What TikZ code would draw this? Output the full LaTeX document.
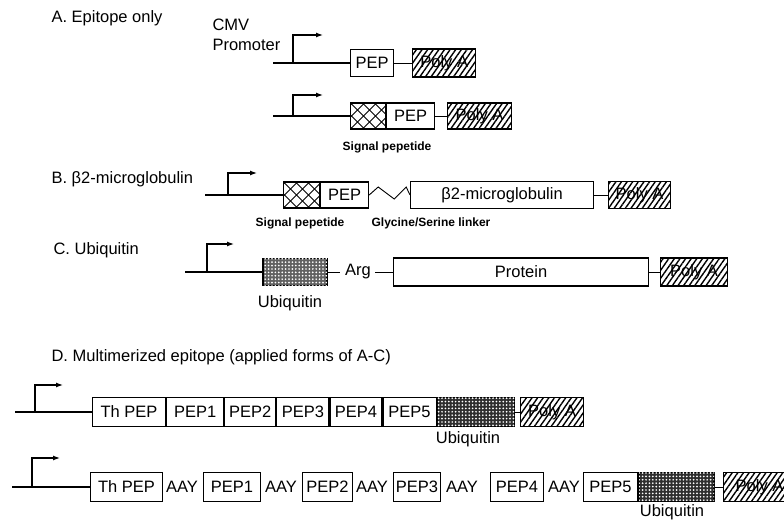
\documentclass[tikz,border=0pt]{standalone}
\usepackage{fontspec}
\setmainfont{Liberation Sans}
\usetikzlibrary{patterns,patterns.meta,arrows.meta}
\tikzset{
  bx/.style={draw,line width=1.1pt,inner sep=0pt,anchor=west,font=\fontsize{16.5}{16.5}\selectfont},
  polya/.style={bx,pattern={Lines[angle=55,distance=4.6pt,line width=1.4pt]}},
  sigpep/.style={bx,path picture={
     \foreach \k in {-60,-48,...,60}{
       \draw[line width=0.9pt] ([xshift=\k pt]path picture bounding box.south west) -- ++(40pt,40pt);
       \draw[line width=0.9pt] ([xshift=\k pt]path picture bounding box.north west) -- ++(40pt,-40pt);}}},
  ubq/.style={bx,line width=1.8pt,fill=black!82,postaction={pattern={Dots[distance=3.4pt,radius=0.95pt]},pattern color=white}},
  dna/.style={line width=1.2pt},
  link/.style={line width=0.9pt},
  prom/.style={line width=1.2pt,-{Latex[length=7pt,width=5pt]}},
  head/.style={anchor=west,font=\fontsize{16.5}{16.5}\selectfont},
  small/.style={font=\fontsize{12}{12}\bfseries\selectfont},
  lab/.style={font=\fontsize{16.5}{16.5}\selectfont},
  aay/.style={inner sep=0pt,font=\fontsize{16.5}{16.5}\selectfont}
}
\begin{document}
\begin{tikzpicture}[x=1pt,y=-1pt]
\useasboundingbox (0,0) rectangle (784,524);
% ---- headings
\node[head] (hA) at (48,18) {A. Epitope only};
\node[head] (hB) at (48,179) {B. β2-microglobulin};
\node[head] (hC) at (50,250) {C. Ubiquitin};
\node[head] (hD) at (48,357) {D. Multimerized epitope (applied forms of A-C)};
\node[lab,anchor=west,align=left] (cmv) at (209,35) {CMV\\[4pt]Promoter};

% ---- A1
\coordinate (a1s) at (273,63);
\coordinate (a1p) at (293,63);
\node[bx,minimum width=43pt,minimum height=27pt] (a1pep) at (350,63) {PEP};
\node[polya,minimum width=63pt,minimum height=28pt] (a1pa) at (412,63) {Poly A};
\draw[dna] (a1s) -- (a1pep.west);
\draw[prom] (a1p) -- ++(0,-28) -- ++(30,0);
\draw[link] (a1pep.east) -- (a1pa.west);

% ---- A2
\coordinate (a2s) at (273,116);
\coordinate (a2p) at (293,116);
\node[sigpep,minimum width=35pt,minimum height=26pt] (a2sig) at (350,116) {};
\node[bx,minimum width=48pt,minimum height=26pt] (a2pep) at (a2sig.east) {PEP};
\node[polya,minimum width=64pt,minimum height=26pt] (a2pa) at (447,116) {Poly A};
\draw[dna] (a2s) -- (a2sig.west);
\draw[prom] (a2p) -- ++(0,-21) -- ++(30,0);
\draw[link] (a2pep.east) -- (a2pa.west);
\node[small] (a2l) at (387,147) {Signal pepetide};

% ---- B
\coordinate (bs) at (205,195);
\coordinate (bp) at (228,195);
\node[sigpep,minimum width=36pt,minimum height=26pt] (bsig) at (283,195) {};
\node[bx,minimum width=48pt,minimum height=26pt] (bpep) at (bsig.east) {PEP};
\node[bx,minimum width=183pt,minimum height=27pt] (bb2) at (410,195) {β2-microglobulin};
\node[polya,minimum width=62pt,minimum height=27pt] (bpa) at (608,195) {Poly A};
\draw[dna] (bs) -- (bsig.west);
\draw[prom] (bp) -- ++(0,-22) -- ++(29,0);
\draw[link] (bpep.east) -- ++(9,-8) -- ++(16,12) -- ++(12,-12) -- (bb2.west);
\draw[link] (bb2.east) -- (bpa.west);
\node[small] (bl1) at (300,223) {Signal pepetide};
\node[small] (bl2) at (431,223) {Glycine/Serine linker};

% ---- C
\coordinate (cs) at (185,272);
\coordinate (cp) at (207,272);
\node[ubq,fill=black!62,minimum width=64pt,minimum height=27pt] (cubq) at (262,272) {};
\node[aay] (carg) at (358,272) {Arg};
\node[bx,minimum width=255pt,minimum height=28pt] (cprot) at (393,272) {Protein};
\node[polya,minimum width=67pt,minimum height=28pt] (cpa) at (660,272) {Poly A};
\draw[dna] (cs) -- (cubq.west);
\draw[prom] (cp) -- ++(0,-28) -- ++(27,0);
\draw[link] (cubq.east) -- ([xshift=-5pt]carg.west);
\draw[link] ([xshift=4pt]carg.east) -- (cprot.west);
\draw[link] (cprot.east) -- (cpa.west);
\node[lab] (cl) at (290,303) {Ubiquitin};

% ---- D1
\coordinate (d1s) at (15,412);
\coordinate (d1p) at (35,412);
\node[bx,minimum width=73pt,minimum height=29pt] (d1th) at (92,412) {Th PEP};
\node[bx,minimum width=57pt,minimum height=29pt] (d1p1) at (d1th.east) {PEP1};
\node[bx,minimum width=51pt,minimum height=29pt] (d1p2) at (d1p1.east) {PEP2};
\node[bx,minimum width=52pt,minimum height=29pt] (d1p3) at (d1p2.east) {PEP3};
\node[bx,minimum width=52pt,minimum height=29pt] (d1p4) at (d1p3.east) {PEP4};
\node[bx,minimum width=53pt,minimum height=29pt] (d1p5) at (d1p4.east) {PEP5};
\node[ubq,minimum width=77pt,minimum height=29pt] (d1u) at (d1p5.east) {};
\node[polya,minimum width=63pt,minimum height=29pt] (d1pa) at (520,412) {Poly A};
\draw[dna] (d1s) -- (d1th.west);
\draw[prom] (d1p) -- ++(0,-27) -- ++(28,0);
\draw[link] (d1u.east) -- (d1pa.west);
\node[lab] (d1l) at (468,439) {Ubiquitin};

% ---- D2
\coordinate (d2s) at (12,487);
\coordinate (d2p) at (32,487);
\node[bx,minimum width=72pt,minimum height=29pt] (d2th) at (90,487) {Th PEP};
\node[aay] (d2a1) at (182,487) {AAY};
\node[bx,minimum width=57pt,minimum height=29pt] (d2p1) at (203,487) {PEP1};
\node[aay] (d2a2) at (281,487) {AAY};
\node[bx,minimum width=50pt,minimum height=29pt] (d2p2) at (302,487) {PEP2};
\node[aay] (d2a3) at (372,487) {AAY};
\node[bx,minimum width=47pt,minimum height=29pt] (d2p3) at (393,487) {PEP3};
\node[aay] (d2a4) at (462,487) {AAY};
\node[bx,minimum width=53pt,minimum height=29pt] (d2p4) at (490,487) {PEP4};
\node[aay] (d2a5) at (564,487) {AAY};
\node[bx,minimum width=54pt,minimum height=29pt] (d2p5) at (583,487) {PEP5};
\node[ubq,minimum width=75pt,minimum height=29pt] (d2u) at (d2p5.east) {};
\node[polya,minimum width=72pt,minimum height=29pt] (d2pa) at (723,487) {Poly A};
\draw[dna] (d2s) -- (d2th.west);
\draw[prom] (d2p) -- ++(0,-29) -- ++(28,0);
\draw[link] (d2u.east) -- (d2pa.west);
\node[lab] (d2l) at (672,512) {Ubiquitin};
\end{tikzpicture}
\end{document}
